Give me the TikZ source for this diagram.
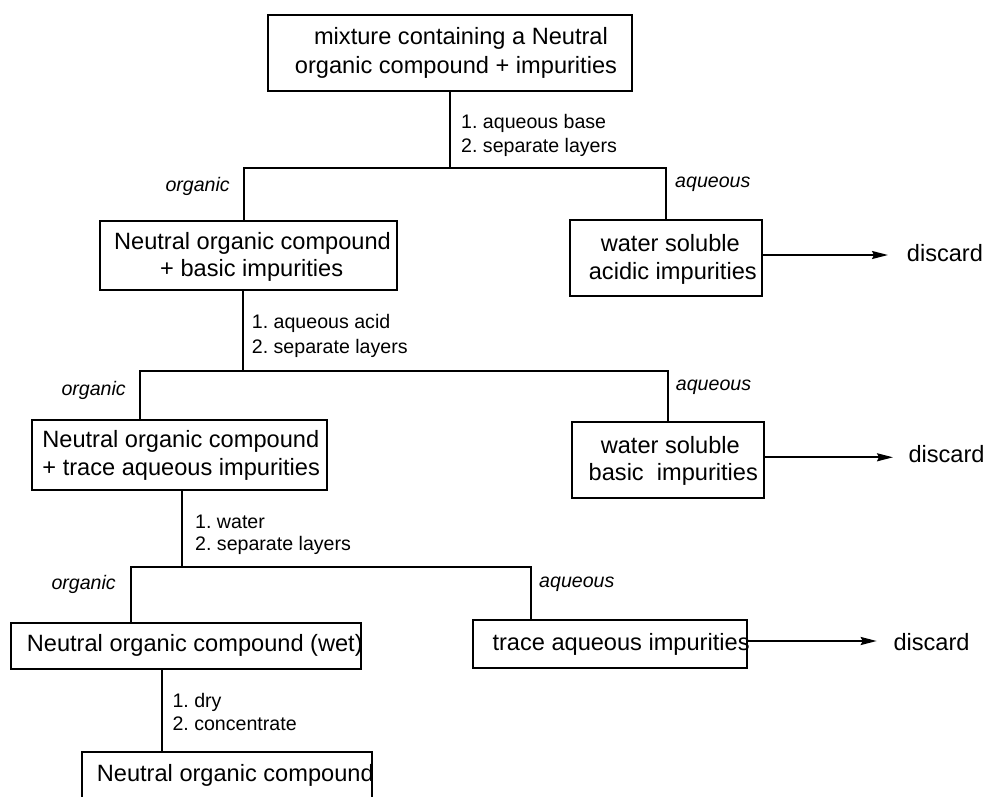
\documentclass[tikz,border=0pt]{standalone}
\usepackage{fontspec}
\setmainfont{Liberation Sans}
\usetikzlibrary{arrows.meta}
\frenchspacing
\tikzset{
  boxn/.style={draw, line width=1.8pt, inner sep=0pt, outer sep=0pt, minimum width=#1},
  bigtxt/.style={inner sep=0pt, font=\fontsize{23.6}{27}\selectfont},
  steptxt/.style={inner sep=0pt, font=\fontsize{19.6}{24}\selectfont, anchor=base west},
  layertxt/.style={inner sep=0pt, font=\fontsize{19.6}{24}\selectfont\itshape},
  conn/.style={line width=1.8pt},
  arr/.style={line width=1.8pt, -{Stealth[length=16pt,width=8pt,inset=2pt]}}
}
\begin{document}
\begin{tikzpicture}[x=1pt,y=-1pt]
\fill[white] (0,0) rectangle (987,797);
\clip (0,0) rectangle (987,797);
\useasboundingbox (0,0) rectangle (987,797);

% boxes
\node[boxn=364pt, minimum height=76pt] (B1) at (450,53) {};
\node[boxn=296.7pt, minimum height=69.3pt] (B2) at (248.35,255.35) {};
\node[boxn=191.7pt, minimum height=76pt] (B3) at (665.85,258) {};
\node[boxn=295.6pt, minimum height=70pt] (B4) at (179.5,455) {};
\node[boxn=191.7pt, minimum height=76.6pt] (B5) at (668.15,460) {};
\node[boxn=350pt, minimum height=46pt] (B6) at (185.7,646.3) {};
\node[boxn=273.4pt, minimum height=47.7pt] (B7) at (610,643.85) {};
\node[boxn=289.4pt, minimum height=90pt] (B8) at (227,796.7) {};

% box texts
\node[bigtxt, anchor=base] (t1a) at (461,45) {mixture containing a Neutral};
\node[bigtxt, anchor=base] (t1b) at (456,73.3) {organic compound + impurities};
\node[bigtxt, anchor=base] (t2a) at (252.5,249.3) {Neutral organic compound};
\node[bigtxt, anchor=base] (t2b) at (251.7,276.7) {+ basic impurities};
\node[bigtxt, anchor=base] (t3a) at (670.3,251.7) {water soluble};
\node[bigtxt, anchor=base] (t3b) at (672.8,279) {acidic impurities};
\node[bigtxt, anchor=base] (t4a) at (180.8,447.3) {Neutral organic compound};
\node[bigtxt, anchor=base] (t4b) at (181.2,475) {+ trace aqueous impurities};
\node[bigtxt, anchor=base] (t5a) at (670.3,453.3) {water soluble};
\node[bigtxt, anchor=base] (t5b) at (673.3,480) {basic\ \ impurities};
\node[bigtxt, anchor=base west] (t6) at (26.7,651.7) {Neutral organic compound (wet)};
\node[bigtxt, anchor=base west] (t7) at (492.3,650) {trace aqueous impurities};
\node[bigtxt, anchor=base west] (t8) at (96.7,781.7) {Neutral organic compound};

% discard texts
\node[bigtxt, anchor=base west] (d1) at (906.7,261.7) {discard};
\node[bigtxt, anchor=base west] (d2) at (908.3,462.3) {discard};
\node[bigtxt, anchor=base west] (d3) at (893.3,650) {discard};

% step labels
\node[steptxt] (s1a) at (461,128.3) {1. aqueous base};
\node[steptxt] (s1b) at (461,152.8) {2. separate layers};
\node[steptxt] (s2a) at (251.7,328.3) {1. aqueous acid};
\node[steptxt] (s2b) at (251.7,353.3) {2. separate layers};
\node[steptxt] (s3a) at (195,528.3) {1. water};
\node[steptxt] (s3b) at (195,550.7) {2. separate layers};
\node[steptxt] (s4a) at (172.3,707.3) {1. dry};
\node[steptxt] (s4b) at (172.3,730) {2. concentrate};

% layer labels
\node[layertxt, anchor=base east] (o1) at (230,191) {organic};
\node[layertxt, anchor=base west] (q1) at (675,187.3) {aqueous};
\node[layertxt, anchor=base east] (o2) at (126,395) {organic};
\node[layertxt, anchor=base west] (q2) at (675.7,390.7) {aqueous};
\node[layertxt, anchor=base east] (o3) at (116,589.3) {organic};
\node[layertxt, anchor=base west] (q3) at (539,587.3) {aqueous};

% junction coordinates
\coordinate (j1) at (450,168);
\coordinate (l1) at (244,168);
\coordinate (r1) at (665.7,168);
\coordinate (j2) at (243,371);
\coordinate (l2) at (140,371);
\coordinate (r2) at (668,371);
\coordinate (j3) at (182.3,567);
\coordinate (l3) at (130.7,567);
\coordinate (r3) at (531,567);
\coordinate (j4) at (162.3,700);
\coordinate (a1) at (888,255);
\coordinate (a2) at (893,457.3);
\coordinate (a3) at (876.7,641);

% connectors
\draw[conn] (B1.south -| j1) -- (j1);
\draw[conn] (B2.north -| l1) -- (l1) -- (r1) -- (B3.north -| r1);
\draw[conn] (B2.south -| j2) -- (j2);
\draw[conn] (B4.north -| l2) -- (l2) -- (r2) -- (B5.north -| r2);
\draw[conn] (B4.south -| j3) -- (j3);
\draw[conn] (B6.north -| l3) -- (l3) -- (r3) -- (B7.north -| r3);
\draw[conn] (B6.south -| j4) -- (B8.north -| j4);

% arrows to discard
\draw[arr] (B3.east |- a1) -- (a1);
\draw[arr] (B5.east |- a2) -- (a2);
\draw[arr] (B7.east |- a3) -- (a3);
\end{tikzpicture}
\end{document}
